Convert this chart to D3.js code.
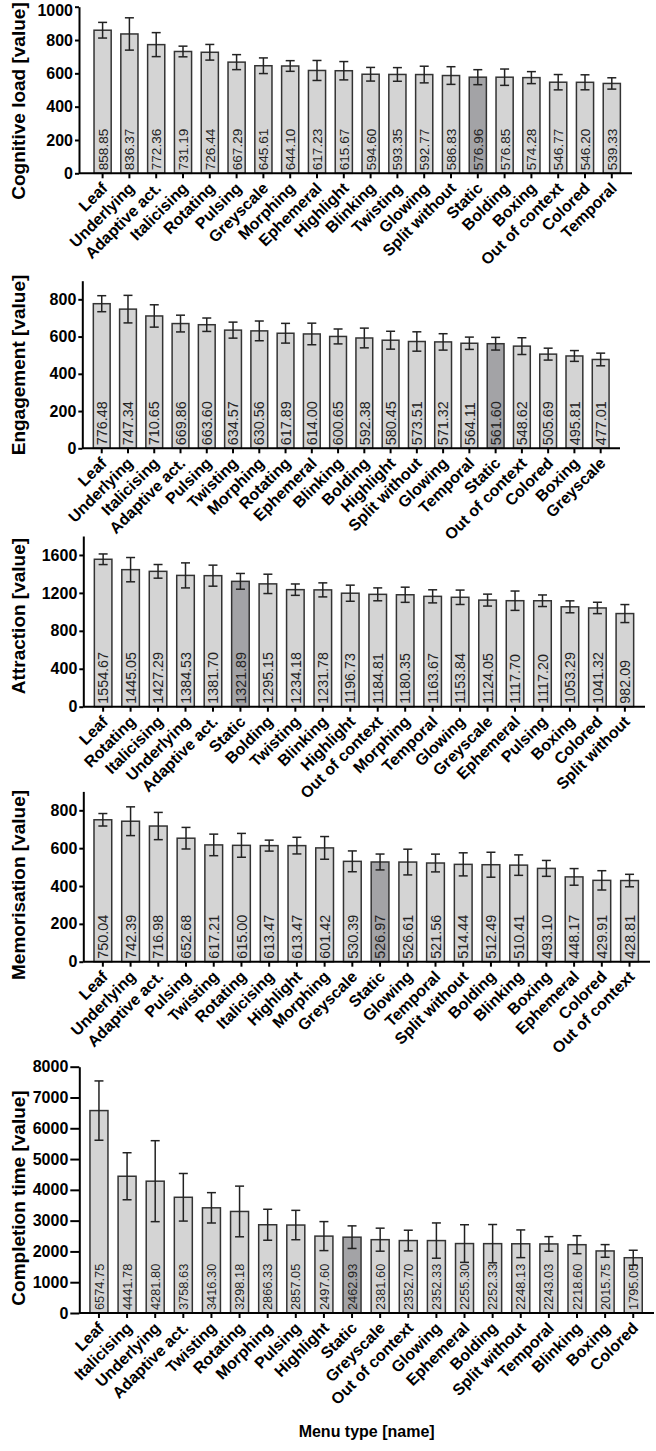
<!DOCTYPE html>
<html lang="en">
<head>
<meta charset="UTF-8">
<title>Menu type comparison</title>
<script src="https://d3js.org/d3.v7.min.js"></script>
<style>
  body { margin: 0; background: #fff; font-family: "Liberation Sans", Arial, sans-serif; }
  .axis path, .axis line { stroke: #000; stroke-width: 2px; }
  .axis text { font-family: "Liberation Sans", Arial, sans-serif; font-weight: bold; fill: #000; }
  .xlab { font-family: "Liberation Sans", Arial, sans-serif; font-weight: bold; font-size: 16px; }
</style>
</head>
<body>
<svg id="chart" width="656" height="1451"></svg>
<script>
// Cognitive load
const cogLabels = ["Leaf", "Underlying", "Adaptive act.", "Italicising", "Rotating", "Pulsing", "Greyscale", "Morphing", "Ephemeral", "Highlight", "Blinking", "Twisting", "Glowing", "Split without", "Static", "Bolding", "Boxing", "Out of context", "Colored", "Temporal"];
const cogValues = [858.85, 836.37, 772.36, 731.19, 726.44, 667.29, 645.61, 644.10, 617.23, 615.67, 594.60, 593.35, 592.77, 586.83, 576.96, 576.85, 574.28, 546.77, 546.20, 539.33];
const cogErrors = [47, 97, 72, 32, 47, 45, 47, 32, 60, 55, 41, 41, 50, 53, 45, 49, 36, 46, 45, 34];
const cogTicks = [0, 200, 400, 600, 800, 1000];

// Engagement
const engLabels = ["Leaf", "Underlying", "Italicising", "Adaptive act.", "Pulsing", "Twisting", "Morphing", "Rotating", "Ephemeral", "Blinking", "Bolding", "Highlight", "Split without", "Glowing", "Temporal", "Static", "Out of context", "Colored", "Boxing", "Greyscale"];
const engValues = [776.48, 747.34, 710.65, 669.86, 663.60, 634.57, 630.56, 617.89, 614.00, 600.65, 592.38, 580.45, 573.51, 571.32, 564.11, 561.60, 548.62, 505.69, 495.81, 477.01];
const engErrors = [43, 74, 60, 45, 36, 43, 53, 53, 58, 40, 53, 48, 52, 44, 33, 34, 45, 32, 29, 34];
const engTicks = [0, 200, 400, 600, 800];

// Attraction
const attLabels = ["Leaf", "Rotating", "Italicising", "Underlying", "Adaptive act.", "Static", "Bolding", "Twisting", "Blinking", "Highlight", "Out of context", "Morphing", "Temporal", "Glowing", "Greyscale", "Ephemeral", "Pulsing", "Boxing", "Colored", "Split without"];
const attValues = [1554.67, 1445.05, 1427.29, 1384.53, 1381.70, 1321.89, 1295.15, 1234.18, 1231.78, 1196.73, 1184.81, 1180.35, 1163.67, 1153.84, 1124.05, 1117.70, 1117.20, 1053.29, 1041.32, 982.09];
const attErrors = [56, 128, 72, 132, 111, 83, 102, 60, 74, 85, 68, 80, 69, 76, 63, 102, 61, 63, 60, 95];
const attTicks = [0, 400, 800, 1200, 1600];

// Memorisation
const memLabels = ["Leaf", "Underlying", "Adaptive act.", "Pulsing", "Twisting", "Rotating", "Italicising", "Highlight", "Morphing", "Greyscale", "Static", "Glowing", "Temporal", "Split without", "Bolding", "Blinking", "Boxing", "Ephemeral", "Colored", "Out of context"];
const memValues = [750.04, 742.39, 716.98, 652.68, 617.21, 615.00, 613.47, 613.47, 601.42, 530.39, 526.97, 526.61, 521.56, 514.44, 512.49, 510.41, 493.10, 448.17, 429.91, 428.81];
const memErrors = [33, 76, 72, 57, 57, 63, 29, 44, 60, 55, 42, 68, 47, 61, 66, 54, 42, 44, 51, 33];
const memTicks = [0, 200, 400, 600, 800];

// Completion time
const timeLabels = ["Leaf", "Italicising", "Underlying", "Adaptive act.", "Twisting", "Rotating", "Morphing", "Pulsing", "Highlight", "Static", "Greyscale", "Out of context", "Glowing", "Ephemeral", "Bolding", "Split without", "Temporal", "Blinking", "Boxing", "Colored"];
const timeValues = [6574.75, 4441.78, 4281.80, 3758.63, 3416.30, 3298.18, 2866.33, 2857.05, 2497.60, 2462.93, 2381.60, 2352.70, 2352.33, 2255.30, 2252.33, 2248.13, 2243.03, 2218.60, 2015.75, 1795.05];
const timeErrors = [963, 764, 1315, 773, 493, 823, 503, 477, 471, 367, 374, 336, 573, 611, 622, 450, 237, 292, 206, 243];
const timeTicks = [0, 1000, 2000, 3000, 4000, 5000, 6000, 7000, 8000];

const highlightName = "Static";

const panels = [
  { title: "Cognitive load [value]", labels: cogLabels, values: cogValues, errors: cogErrors, ticks: cogTicks, max: 1000 },
  { title: "Engagement [value]", labels: engLabels, values: engValues, errors: engErrors, ticks: engTicks, max: 900 },
  { title: "Attraction [value]", labels: attLabels, values: attValues, errors: attErrors, ticks: attTicks, max: 1800 },
  { title: "Memorisation [value]", labels: memLabels, values: memValues, errors: memErrors, ticks: memTicks, max: 900 },
  { title: "Completion time [value]", labels: timeLabels, values: timeValues, errors: timeErrors, ticks: timeTicks, max: 8000 }
];

// where each panel sits on the page
const layout = [
  { ax: 79,   axEnd: 632, b0: 89.2, b1: 625.2, yZero: 173.3,  yTop: 6.7,    titleY: 101,  tick: 4, valFont: 13.6 },
  { ax: 82.3, axEnd: 620, b0: 88.6, b1: 613.8, yZero: 448.3,  yTop: 280.7,  titleY: 365,  tick: 4, valFont: 14.4 },
  { ax: 83.3, axEnd: 645, b0: 89.4, b1: 638.6, yZero: 706.7,  yTop: 536,    titleY: 616,  tick: 4, valFont: 14.3 },
  { ax: 83.3, axEnd: 650, b0: 89,   b1: 643.4, yZero: 961.7,  yTop: 791.4,  titleY: 885,  tick: 4, valFont: 14.4 },
  { ax: 79.3, axEnd: 654, b0: 84.9, b1: 647.3, yZero: 1313,   yTop: 1066.7, titleY: 1198, tick: 9, valFont: 12.8 }
];

const svg = d3.select("#chart");

panels.forEach((p, k) => {
  const L = layout[k];
  const g = svg.append("g");
  const rows = p.labels.map((name, i) => ({ name, value: p.values[i], err: p.errors[i] }));

  const x = d3.scaleBand().domain(p.labels).range([L.b0, L.b1]).paddingInner(0.36).paddingOuter(0.18);
  const y = d3.scaleLinear().domain([0, p.max]).range([L.yZero, L.yTop]);
  const cx = d => x(d.name) + x.bandwidth() / 2;

  // bars
  g.selectAll("rect.bar").data(rows).enter().append("rect")
    .attr("class", "bar")
    .attr("x", d => x(d.name))
    .attr("y", d => y(d.value))
    .attr("width", x.bandwidth())
    .attr("height", d => y(0) - y(d.value))
    .attr("fill", d => d.name === highlightName ? "#a3a3a6" : "#d4d4d4")
    .attr("stroke", "#333")
    .attr("stroke-width", 1.5);

  // error bars
  const eb = g.selectAll("g.err").data(rows).enter().append("g")
    .attr("class", "err")
    .attr("stroke", "#222")
    .attr("stroke-width", 1.5);
  eb.append("line")
    .attr("x1", cx).attr("x2", cx)
    .attr("y1", d => y(d.value + d.err))
    .attr("y2", d => y(d.value - d.err));
  [1, -1].forEach(s => {
    eb.append("line")
      .attr("x1", d => cx(d) - 4.5)
      .attr("x2", d => cx(d) + 4.5)
      .attr("y1", d => y(d.value + s * d.err))
      .attr("y2", d => y(d.value + s * d.err));
  });

  // value labels inside bars
  g.selectAll("text.val").data(rows).enter().append("text")
    .attr("class", "val")
    .attr("transform", d => `translate(${cx(d)},${L.yZero - 3}) rotate(-90)`)
    .attr("dy", "0.36em")
    .style("font-size", L.valFont + "px")
    .style("fill", "#222")
    .text(d => d.value.toFixed(2));

  // y axis
  const yAxis = g.append("g").attr("class", "axis")
    .attr("transform", `translate(${L.ax},0)`)
    .call(d3.axisLeft(y).tickValues(p.ticks).tickFormat(d3.format("d"))
      .tickSize(L.tick).tickSizeOuter(0).tickPadding(2));
  yAxis.selectAll("text").style("font-size", "16px");
  // keep the topmost label inside the page
  yAxis.selectAll(".tick").filter(d => y(d) < 12).select("text").attr("dy", "0.52em");

  // x axis ticks only, names drawn below
  const xAxis = g.append("g").attr("class", "axis")
    .attr("transform", `translate(0,${L.yZero})`)
    .call(d3.axisBottom(x).tickSize(5).tickSizeOuter(0).tickFormat(""));
  xAxis.select(".domain").remove();
  g.append("line")
    .attr("x1", L.ax).attr("x2", L.axEnd)
    .attr("y1", L.yZero).attr("y2", L.yZero)
    .attr("stroke", "#000").attr("stroke-width", 2);

  g.selectAll("text.xlab").data(rows).enter().append("text")
    .attr("class", "xlab")
    .attr("text-anchor", "end")
    .attr("transform", d => `translate(${cx(d) + 6},${L.yZero + 16}) rotate(-45)`)
    .text(d => d.name);

  // y title
  g.append("text")
    .attr("transform", `translate(25,${L.titleY}) rotate(-90)`)
    .attr("text-anchor", "middle")
    .style("font-size", "19px")
    .style("font-weight", "bold")
    .text(p.title);
});

svg.append("text")
  .attr("x", (layout[4].ax + layout[4].axEnd) / 2)
  .attr("y", 1437)
  .attr("text-anchor", "middle")
  .style("font-size", "16px")
  .style("font-weight", "bold")
  .text("Menu type [name]");
</script>
</body>
</html>
